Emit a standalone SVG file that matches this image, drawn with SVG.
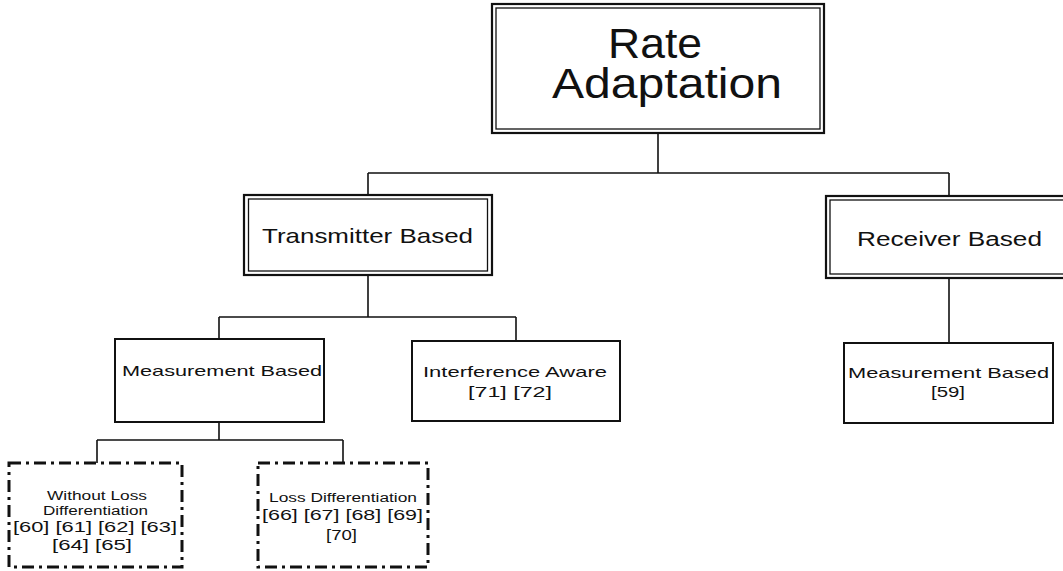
<svg xmlns="http://www.w3.org/2000/svg" width="1063" height="571" viewBox="0 0 1063 571">
<style>
text{font-family:"Liberation Sans",Arial,sans-serif;fill:#111;}
.outer{fill:#fff;stroke:#111;stroke-width:2.2;}
.inner{fill:none;stroke:#111;stroke-width:1.3;}
.box{fill:#fff;stroke:#111;stroke-width:2;}
.dash{fill:#fff;stroke:#111;stroke-width:3;stroke-dasharray:12 5 3 5;}
.conn{fill:none;stroke:#111;stroke-width:1.6;}
</style>
<rect width="1063" height="571" fill="#fff"/>
<g id="connectors">
<path class="conn" d="M658 133 V173 M368 173 H949 M368 173 V195 M949 173 V196"/>
<path class="conn" d="M368 275 V317 M219 317 H516 M219 317 V339 M516 317 V341"/>
<path class="conn" d="M949 278 V343"/>
<path class="conn" d="M219 422 V440 M97 440 H343 M97 440 V463 M343 440 V463"/>
</g>
<g id="rate-adaptation">
<rect class="outer" x="492" y="4" width="332" height="129"/>
<rect class="inner" x="496" y="8" width="324" height="121"/>
<text x="608" y="58" font-size="43" textLength="94" lengthAdjust="spacingAndGlyphs">Rate</text>
<text x="552" y="98" font-size="43" textLength="230" lengthAdjust="spacingAndGlyphs">Adaptation</text>
</g>
<g id="transmitter-based">
<rect class="outer" x="244" y="195" width="248" height="80"/>
<rect class="inner" x="248.5" y="199" width="239" height="72"/>
<text x="262" y="243" font-size="21" textLength="211" lengthAdjust="spacingAndGlyphs">Transmitter Based</text>
</g>
<g id="receiver-based">
<rect class="outer" x="826" y="196" width="250" height="82"/>
<rect class="inner" x="830" y="200" width="242" height="74"/>
<text x="857" y="246" font-size="20" textLength="185" lengthAdjust="spacingAndGlyphs">Receiver Based</text>
</g>
<g id="tx-measurement-based">
<rect class="box" x="115" y="339" width="209" height="83"/>
<text x="122" y="376" font-size="15" textLength="200" lengthAdjust="spacingAndGlyphs">Measurement Based</text>
</g>
<g id="interference-aware">
<rect class="box" x="412" y="341" width="208" height="80"/>
<text x="423" y="377" font-size="15" textLength="184" lengthAdjust="spacingAndGlyphs">Interference Aware</text>
<text x="468" y="397" font-size="15" textLength="84" lengthAdjust="spacingAndGlyphs">[71] [72]</text>
</g>
<g id="rx-measurement-based">
<rect class="box" x="844" y="343" width="209" height="80"/>
<text x="848" y="378" font-size="15" textLength="201" lengthAdjust="spacingAndGlyphs">Measurement Based</text>
<text x="931" y="397" font-size="15" textLength="34" lengthAdjust="spacingAndGlyphs">[59]</text>
</g>
<g id="without-loss-differentiation">
<rect class="dash" x="9" y="463" width="173" height="104"/>
<text x="47" y="500" font-size="12" textLength="100" lengthAdjust="spacingAndGlyphs">Without Loss</text>
<text x="43" y="515" font-size="12" textLength="105" lengthAdjust="spacingAndGlyphs">Differentiation</text>
<text x="13" y="532" font-size="15" textLength="164" lengthAdjust="spacingAndGlyphs">[60] [61] [62] [63]</text>
<text x="52" y="550" font-size="15" textLength="80" lengthAdjust="spacingAndGlyphs">[64] [65]</text>
</g>
<g id="loss-differentiation">
<rect class="dash" x="258" y="463" width="170" height="104"/>
<text x="269" y="502" font-size="12" textLength="148" lengthAdjust="spacingAndGlyphs">Loss Differentiation</text>
<text x="262" y="520" font-size="15" textLength="161" lengthAdjust="spacingAndGlyphs">[66] [67] [68] [69]</text>
<text x="326" y="540" font-size="15" textLength="31" lengthAdjust="spacingAndGlyphs">[70]</text>
</g>
</svg>
